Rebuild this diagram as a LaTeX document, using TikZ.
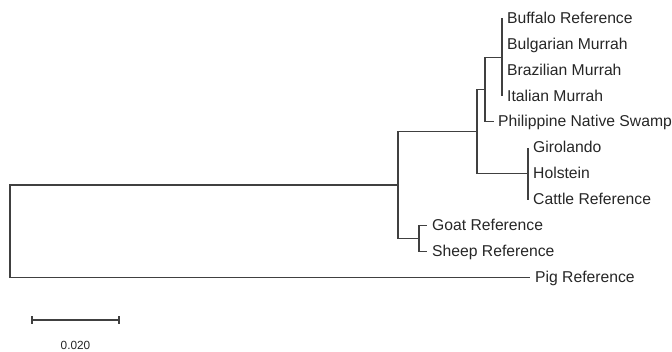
\documentclass[tikz,border=0pt]{standalone}
\usepackage{fontspec}
\setmainfont{Liberation Sans}
\begin{document}
\begin{tikzpicture}[x=1pt,y=-1pt,
  br/.style={draw=black!75, line width=1.1pt},
  lf/.style={anchor=west, inner sep=0pt, text height=0.72em, text depth=0pt,
    font=\fontsize{15.7}{18}\selectfont, text=black!85, yshift=-1.5pt},
  sc/.style={inner sep=0pt, font=\fontsize{11.8}{13}\selectfont, text=black!85}]
\useasboundingbox (0,0) rectangle (672,352);
% internal nodes
\coordinate (root) at (10,231.2);
\coordinate (n1) at (398,185);
\coordinate (n2) at (477,131.6);
\coordinate (n3) at (485,89.5);
\coordinate (nbuf) at (502,57.2);
\coordinate (ncat) at (528,173.7);
\coordinate (ngs) at (419,238.5);
% leaf tips
\coordinate (t0) at (502,18.3);
\coordinate (t1) at (502,44.2);
\coordinate (t2) at (502,70.1);
\coordinate (t3) at (502,96.0);
\coordinate (t4) at (494,121.9);
\coordinate (t5) at (528,147.8);
\coordinate (t6) at (528,173.7);
\coordinate (t7) at (528,199.6);
\coordinate (t8) at (427,225.5);
\coordinate (t9) at (427,251.4);
\coordinate (t10) at (530,277.3);
% labels
\node[lf] (l0) at ([xshift=5]t0) {Buffalo Reference};
\node[lf] (l1) at ([xshift=5]t1) {Bulgarian Murrah};
\node[lf] (l2) at ([xshift=5]t2) {Brazilian Murrah};
\node[lf] (l3) at ([xshift=5]t3) {Italian Murrah};
\node[lf] (l4) at ([xshift=4]t4) {Philippine Native Swamp};
\node[lf] (l5) at ([xshift=5]t5) {Girolando};
\node[lf] (l6) at ([xshift=5]t6) {Holstein};
\node[lf] (l7) at ([xshift=5]t7) {Cattle Reference};
\node[lf] (l8) at ([xshift=5]t8) {Goat Reference};
\node[lf] (l9) at ([xshift=5]t9) {Sheep Reference};
\node[lf] (l10) at ([xshift=5]t10) {Pig Reference};
% branches
\draw[br] (root) |- (n1);
\draw[br] (root) |- (t10);
\draw[br] (n1) |- (n2);
\draw[br] (n1) |- (ngs);
\draw[br] (n2) |- (n3);
\draw[br] (n2) |- (ncat);
\draw[br] (n3) |- (nbuf);
\draw[br] (n3) |- (t4);
\draw[br] (nbuf) -- (t0);
\draw[br] (nbuf) -- (t3);
\draw[br] (ncat) -- (t5);
\draw[br] (ncat) -- (t7);
\draw[br] (ngs) |- (t8);
\draw[br] (ngs) |- (t9);
% scale bar
\coordinate (s0) at (32,320);
\coordinate (s1) at (119,320);
\draw[br] (s0) -- (s1);
\draw[br] ([yshift=-4]s0) -- ([yshift=4]s0);
\draw[br] ([yshift=-4]s1) -- ([yshift=4]s1);
\node[sc] (slab) at (75.5,345.8) {0.020};
\end{tikzpicture}
\end{document}
